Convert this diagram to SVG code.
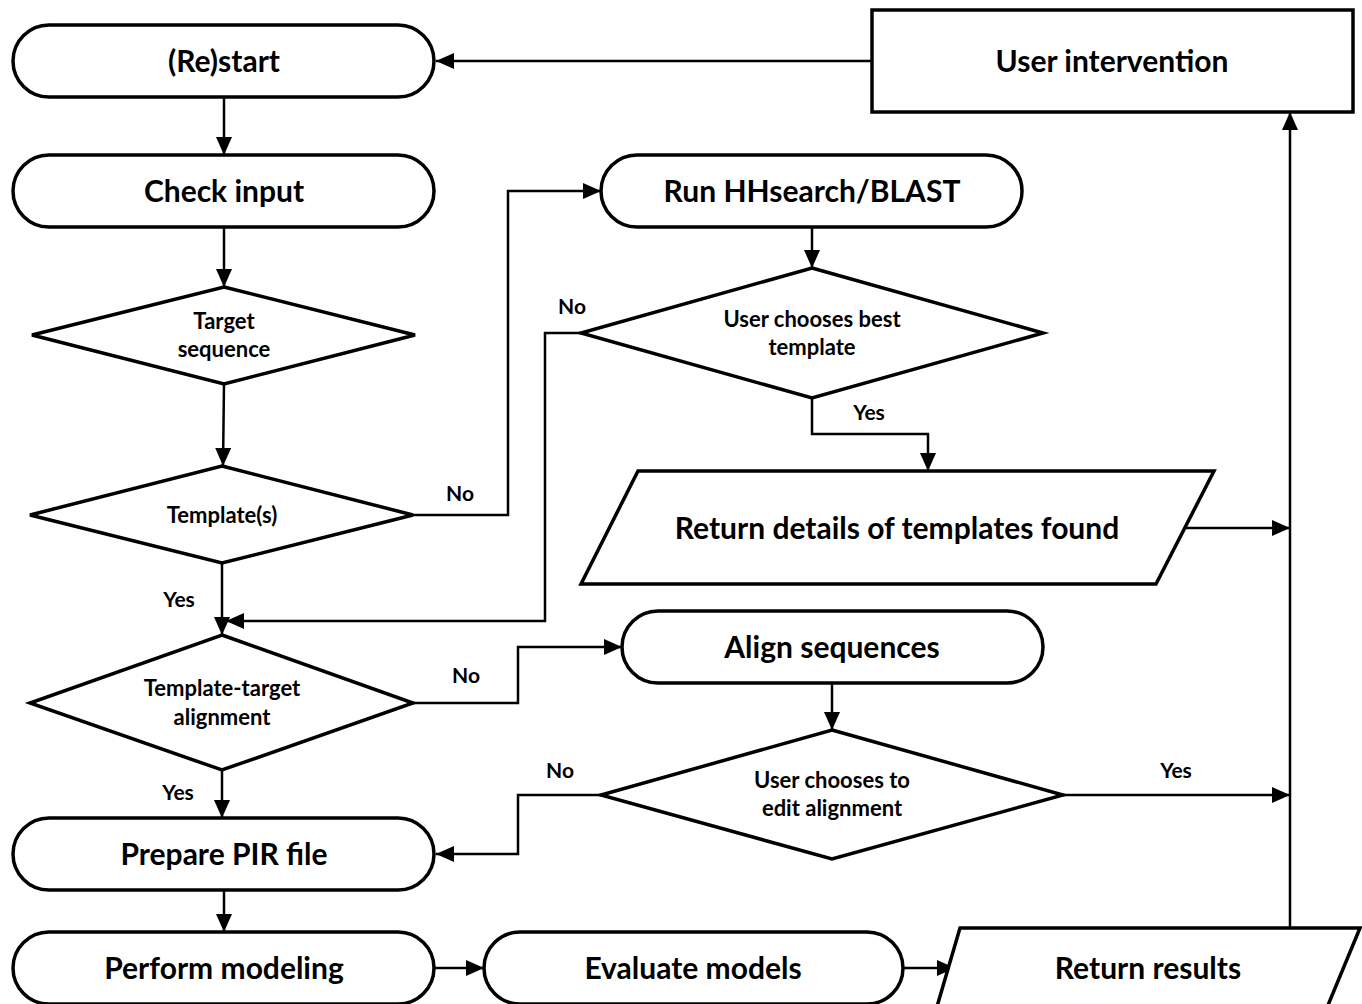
<svg xmlns="http://www.w3.org/2000/svg" width="1362" height="1004" viewBox="0 0 1362 1004">
<style>
.s{fill:#fff;stroke:#000;stroke-width:3.5}
.c{fill:none;stroke:#000;stroke-width:2.5}
text{font-family:Lato,"Open Sans","Liberation Sans",sans-serif;font-weight:bold;fill:#000;text-anchor:middle}
.n{font-size:30px}
.d{font-size:22px}
.l{font-size:21px}
</style>
<defs>
<marker id="a" markerUnits="userSpaceOnUse" markerWidth="18" markerHeight="16" refX="18" refY="8" orient="auto">
<path d="M0,0 L18,8 L0,16 Z" fill="#000"/>
</marker>
</defs>
<rect width="1362" height="1004" fill="#fff"/>
<g id="connectors">
<path class="c" d="M872,61 H436" marker-end="url(#a)"/>
<path class="c" d="M224,97 V155" marker-end="url(#a)"/>
<path class="c" d="M224,227 V287" marker-end="url(#a)"/>
<path class="c" d="M224,384 L223,466" marker-end="url(#a)"/>
<path class="c" d="M413,515 H508 V191 H601" marker-end="url(#a)"/>
<path class="c" d="M222,563 V635" marker-end="url(#a)"/>
<path class="c" d="M581,333 H545 V621 H226" marker-end="url(#a)"/>
<path class="c" d="M812,227 V268" marker-end="url(#a)"/>
<path class="c" d="M812,398 V434 H928 V471" marker-end="url(#a)"/>
<path class="c" d="M1185,528 H1290" marker-end="url(#a)"/>
<path class="c" d="M413,703 H518 V647 H622" marker-end="url(#a)"/>
<path class="c" d="M832,683 V730" marker-end="url(#a)"/>
<path class="c" d="M601,795 H518 V854 H436" marker-end="url(#a)"/>
<path class="c" d="M1063,795 H1290" marker-end="url(#a)"/>
<path class="c" d="M222,770 V818" marker-end="url(#a)"/>
<path class="c" d="M224,890 V932" marker-end="url(#a)"/>
<path class="c" d="M434,968 H484" marker-end="url(#a)"/>
<path class="c" d="M903,968 H955" marker-end="url(#a)"/>
<path class="c" d="M1290,928 V112" marker-end="url(#a)"/>
<text class="l" x="460" y="501">No</text>
<text class="l" x="179" y="607">Yes</text>
<text class="l" x="572" y="314">No</text>
<text class="l" x="869" y="420">Yes</text>
<text class="l" x="466" y="683">No</text>
<text class="l" x="178" y="800">Yes</text>
<text class="l" x="560" y="778">No</text>
<text class="l" x="1176" y="778">Yes</text>
</g>
<g id="restart"><rect class="s" x="13" y="25" width="421" height="72" rx="36"/><text class="n" x="224" y="72">(Re)start</text></g>
<g id="user-intervention"><rect class="s" x="872" y="10" width="481" height="102"/><text class="n" x="1112" y="72">User intervention</text></g>
<g id="check-input"><rect class="s" x="13" y="155" width="421" height="72" rx="36"/><text class="n" x="224" y="202">Check input</text></g>
<g id="target-sequence"><polygon class="s" points="224,287 415,335 224,384 32,335"/><text class="d" x="224" y="329">Target</text><text class="d" x="224" y="357">sequence</text></g>
<g id="templates"><polygon class="s" points="222,466 413,515 222,563 30,515"/><text class="d" x="222" y="523">Template(s)</text></g>
<g id="template-target"><polygon class="s" points="222,635 413,703 222,770 30,703"/><text class="d" x="222" y="696">Template-target</text><text class="d" x="222" y="725">alignment</text></g>
<g id="prepare-pir"><rect class="s" x="13" y="818" width="421" height="72" rx="36"/><text class="n" x="224" y="865">Prepare PIR file</text></g>
<g id="perform-modeling"><rect class="s" x="13" y="932" width="421" height="72" rx="36"/><text class="n" x="224" y="979">Perform modeling</text></g>
<g id="evaluate-models"><rect class="s" x="484" y="932" width="419" height="72" rx="36"/><text class="n" x="693" y="979">Evaluate models</text></g>
<g id="return-results"><polygon class="s" points="960,928 1360,928 1326,1010 936,1010"/><text class="n" x="1148" y="979">Return results</text></g>
<g id="run-hhsearch"><rect class="s" x="601" y="155" width="421" height="72" rx="36"/><text class="n" x="812" y="202">Run HHsearch/BLAST</text></g>
<g id="user-chooses-best"><polygon class="s" points="812,268 1043,333 812,398 581,333"/><text class="d" x="812" y="327">User chooses best</text><text class="d" x="812" y="355">template</text></g>
<g id="return-details"><polygon class="s" points="638,471 1214,471 1156,584 581,584"/><text class="n" x="897" y="539">Return details of templates found</text></g>
<g id="align-sequences"><rect class="s" x="622" y="611" width="421" height="72" rx="36"/><text class="n" x="832" y="658">Align sequences</text></g>
<g id="user-chooses-edit"><polygon class="s" points="832,730 1063,795 832,859 601,795"/><text class="d" x="832" y="788">User chooses to</text><text class="d" x="832" y="816">edit alignment</text></g>
</svg>
